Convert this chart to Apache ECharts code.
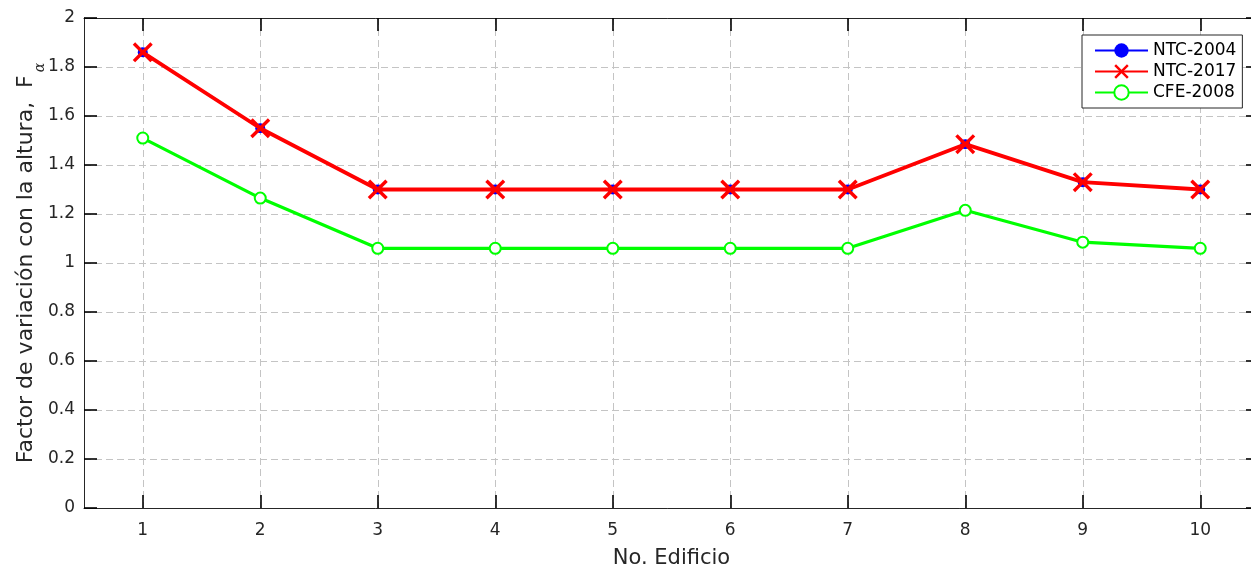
<!DOCTYPE html>
<html>
<head>
<meta charset="utf-8">
<script src="https://cdn.jsdelivr.net/npm/echarts@6/dist/echarts.min.js"></script>
<style>
html,body{margin:0;padding:0;background:#fff;}
#chart{width:1251px;height:567px;}
</style>
</head>
<body>
<div id="chart"></div>
<script>
const edificios = [1, 2, 3, 4, 5, 6, 7, 8, 9, 10];
const ntc2004 = [1.86, 1.55, 1.30, 1.30, 1.30, 1.30, 1.30, 1.485, 1.33, 1.30];
const ntc2017 = [1.86, 1.55, 1.30, 1.30, 1.30, 1.30, 1.30, 1.485, 1.33, 1.30];
const cfe2008 = [1.51, 1.265, 1.06, 1.06, 1.06, 1.06, 1.06, 1.215, 1.085, 1.06];
const yTicks = [0, 0.2, 0.4, 0.6, 0.8, 1, 1.2, 1.4, 1.6, 1.8, 2];

const FONT = 'DejaVu Sans, sans-serif';
const pairs = arr => edificios.map((x, i) => [x, arr[i]]);
const gridLine = { show: true, lineStyle: { color: '#c4c4c4', type: [7, 4], width: 1 } };
const axLine = { show: true, onZero: false, lineStyle: { color: '#262626', width: 1 } };
const tick = { show: true, inside: true, length: 13, lineStyle: { color: '#000', width: 1.6 } };
const X_PATH = 'path://M0,2.4L2.4,0L10,7.6L17.6,0L20,2.4L12.4,10L20,17.6L17.6,20L10,12.4L2.4,20L0,17.6L7.6,10Z';

const chart = echarts.init(document.getElementById('chart'), null, { renderer: 'canvas' });
chart.setOption({
  animation: false,
  backgroundColor: '#fff',
  grid: { left: 84, top: 18, right: -8, bottom: 59, containLabel: false, outerBoundsMode: 'none' },
  xAxis: [{
    type: 'value', min: 0.5, max: 10.5, position: 'bottom',
    name: 'No. Edificio', nameLocation: 'middle', nameGap: 40,
    nameTextStyle: { fontFamily: FONT, fontSize: 21, color: '#262626' },
    axisLine: axLine,
    axisTick: Object.assign({ customValues: edificios }, tick),
    axisLabel: { customValues: edificios, fontFamily: FONT, fontSize: 17, color: '#262626', margin: 14 },
    splitLine: gridLine
  }, {
    type: 'value', min: 0.5, max: 10.5, position: 'top',
    axisLine: axLine,
    axisTick: Object.assign({ customValues: edificios }, tick),
    axisLabel: { show: false },
    splitLine: { show: false }
  }],
  yAxis: [{
    type: 'value', min: 0, max: 2, interval: 0.2, position: 'left',
    name: '{a|Factor de variación con la altura,  F}{s|α}',
    nameLocation: 'middle', nameGap: 37, nameMoveOverlap: false,
    nameTextStyle: {
      fontFamily: FONT, fontSize: 22, color: '#262626',
      rich: {
        a: { fontFamily: FONT, fontSize: 22, color: '#262626', verticalAlign: 'top' },
        s: { fontFamily: 'DejaVu Serif, serif', fontStyle: 'italic', fontSize: 14, color: '#262626', verticalAlign: 'bottom', padding: [18, 0, 0, 3] }
      }
    },
    axisLine: axLine,
    axisTick: tick,
    axisLabel: { fontFamily: FONT, fontSize: 17, color: '#262626', margin: 9,
      formatter: v => String(yTicks[Math.round(v / 0.2)]) },
    splitLine: gridLine
  }, {
    type: 'value', min: 0, max: 2, interval: 0.2, position: 'right',
    axisLine: axLine, axisTick: tick, axisLabel: { show: false }, splitLine: { show: false }
  }],
  legend: {
    orient: 'vertical', left: 1082, top: 35,
    padding: [7, 6, 7, 12], itemGap: 4, itemWidth: 53, itemHeight: 18,
    backgroundColor: '#fff', borderColor: '#262626', borderWidth: 1, borderRadius: 0,
    textStyle: { fontFamily: FONT, fontSize: 17, color: '#000' },
    data: ['NTC-2004', 'NTC-2017', 'CFE-2008']
  },
  series: [{
    name: 'NTC-2004', type: 'line', data: pairs(ntc2004),
    symbol: 'circle', symbolSize: 10, showAllSymbol: true,
    lineStyle: { color: '#0000ff', width: 2 },
    itemStyle: { color: '#0000ff' }, z: 2
  }, {
    name: 'NTC-2017', type: 'line', data: pairs(ntc2017),
    symbol: X_PATH, symbolSize: 20, showAllSymbol: true,
    lineStyle: { color: '#ff0000', width: 3.8 },
    itemStyle: { color: '#ff0000' }, z: 3
  }, {
    name: 'CFE-2008', type: 'line', data: pairs(cfe2008),
    symbol: 'emptyCircle', symbolSize: 11, showAllSymbol: true,
    lineStyle: { color: '#00ff00', width: 3.2 },
    itemStyle: { color: '#00ff00', borderColor: '#00ff00', borderWidth: 2.6 }, z: 4
  }]
});
</script>
</body>
</html>
